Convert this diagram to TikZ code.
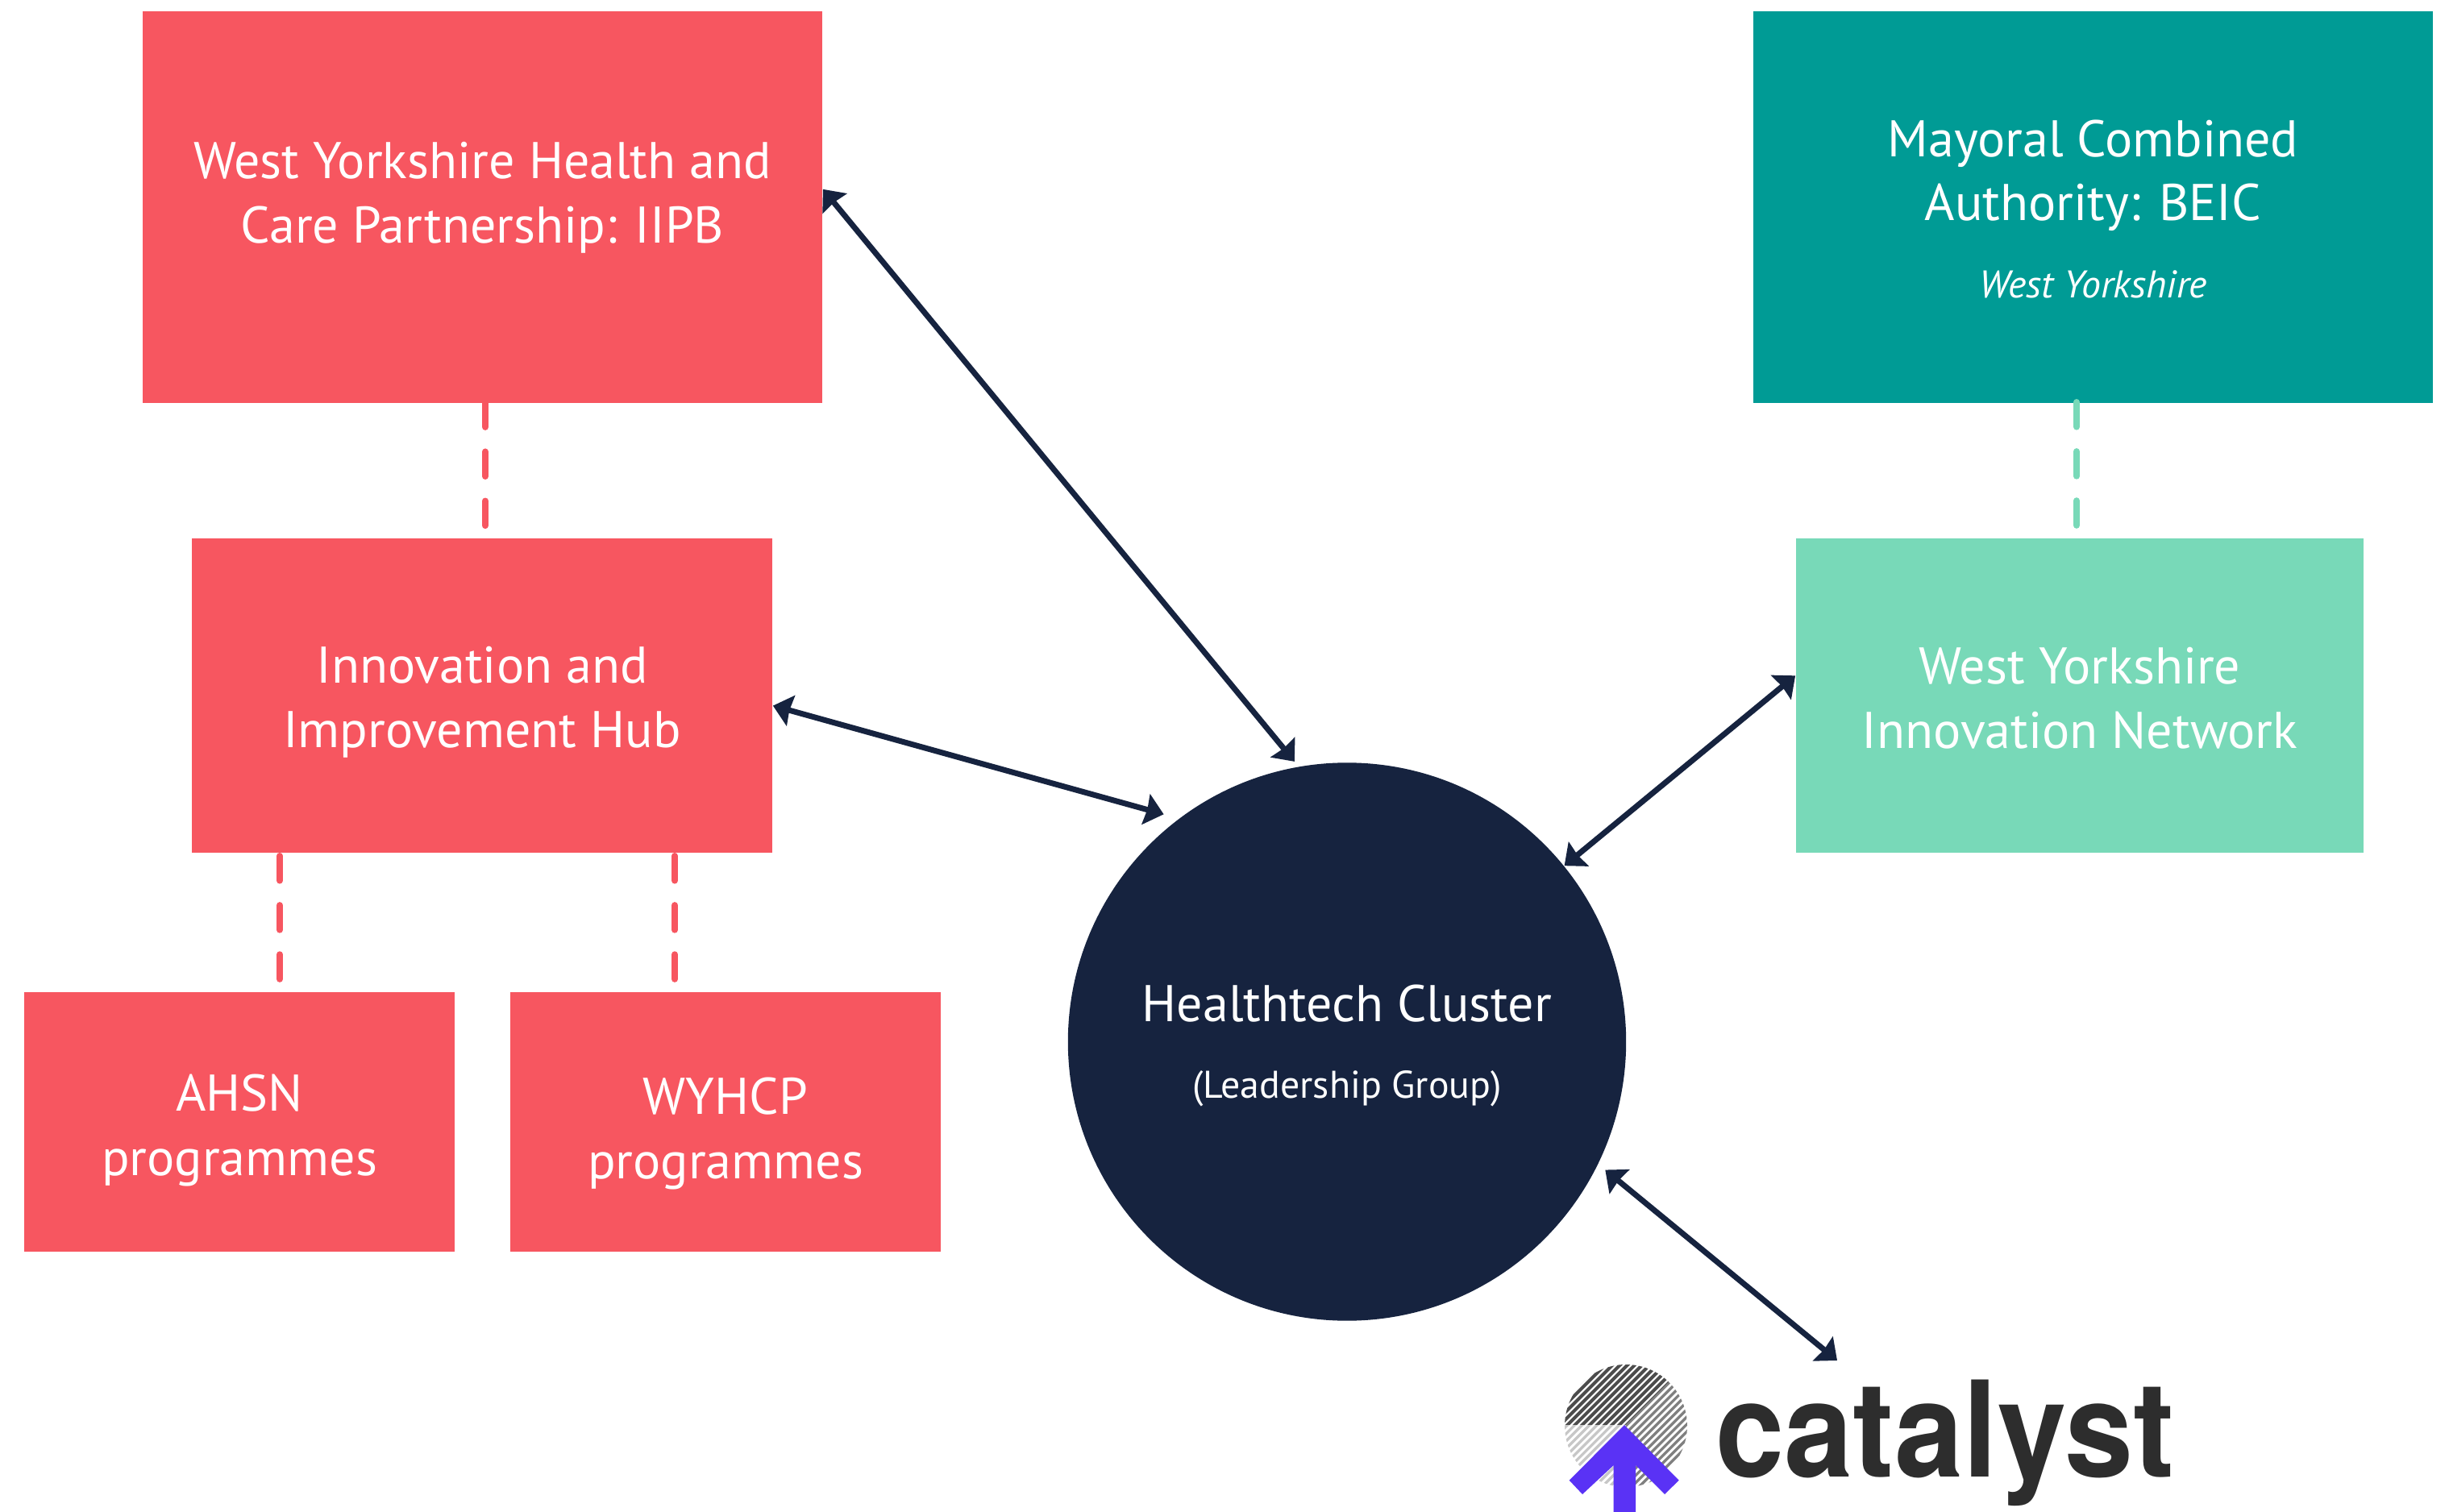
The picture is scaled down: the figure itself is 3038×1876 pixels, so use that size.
\documentclass[tikz,border=0pt]{standalone}
\usepackage{fontspec}
\setmainfont{PT Sans}
\newfontfamily\logofont{TeX Gyre Heros}
\usetikzlibrary{arrows.meta, positioning, calc, shapes.geometric}
\definecolor{redcol}{HTML}{F75660}
\definecolor{tealcol}{HTML}{009B95}
\definecolor{mintcol}{HTML}{78D9B8}
\definecolor{navycol}{HTML}{16233F}
\definecolor{logocol}{HTML}{2D2D2D}
\definecolor{purplecol}{HTML}{5A32F5}

\begin{document}
\begin{tikzpicture}[
    x=0.01cm, y=-0.01cm,
    box/.style={
        inner sep=0pt, align=center, text=white,
        font=\fontsize{18.2}{22.7}\selectfont
    },
    link/.style={
        draw=navycol, line width=2pt,
        {Stealth[length=6.5pt,width=11pt,inset=0.5pt]}-{Stealth[length=6.5pt,width=11pt,inset=0.5pt]}
    },
    tie/.style={
        line width=2.27pt, line cap=round, dash pattern=on 8.7pt off 8.68pt
    },
]
\useasboundingbox (0,0) rectangle (3038,1876);

% ── Boxes ──
\node[box, fill=redcol, minimum width=8.43cm, minimum height=4.86cm] (iipb) at (598.5,257)
    {West Yorkshire Health and\\Care Partnership: IIPB\\[-12.3pt]};
\node[box, fill=redcol, minimum width=7.2cm, minimum height=3.9cm] (hub) at (598,863)
    {Innovation and\\Improvement Hub\\[-23.8pt]};
\node[box, fill=redcol, minimum width=5.34cm, minimum height=3.22cm] (ahsn) at (297,1392)
    {AHSN\\programmes\\[-24.7pt]};
\node[box, fill=redcol, minimum width=5.34cm, minimum height=3.22cm] (wyhcp) at (900,1392)
    {WYHCP\\programmes\\[-26.9pt]};
\node[box, fill=tealcol, minimum width=8.43cm, minimum height=4.86cm] (mca) at (2596.5,257)
    {Mayoral Combined\\Authority: BEIC\\[4.35pt]{\fontsize{13.6}{16}\selectfont\itshape West Yorkshire}\\[-23.7pt]};
\node[box, fill=mintcol, minimum width=7.04cm, minimum height=3.9cm] (wyin) at (2580,863)
    {West Yorkshire\\Innovation Network\\[-24.3pt]};
\node[box, fill=navycol, circle, minimum size=6.92cm] (cluster) at (1671,1292.5)
    {Healthtech Cluster\\[4.2pt]{\fontsize{13.6}{16}\selectfont (Leadership Group)}\\[-22.4pt]};

% ── Logo ──
\node[inner sep=0pt, anchor=base west, text=logocol, xscale=0.926,
    font=\logofont\bfseries\fontsize{47}{47}\selectfont] (catalyst) at (2128,1832) {catalyst};
\coordinate (catalystN) at (2279,1688);
\foreach \sector/\shade/\wd in {
    {(2017,1768) -- (1900,1768) -- (1900,1650) -- (2135,1650)}/black!70/1.15pt,
    {(2017,1768) -- (2135,1650) -- (2135,1890) -- (2017,1890)}/black!50/0.95pt,
    {(2017,1768) -- (2017,1890) -- (1900,1890) -- (1900,1768)}/black!22/0.95pt} {
    \begin{scope}
        \clip (2017,1769) circle (76);
        \clip \sector -- cycle;
        \foreach \k in {-13,...,13} {
            \draw[\shade, line width=\wd] ($(2017,1769)+(\k*9.2,0)+(-110,110)$) -- ++(220,-220);
        }
    \end{scope}
}
\fill[purplecol] (2015,1768) -- (2082.7,1836.7) -- (2065,1854) -- (2029,1818) -- (2029,1876)
    -- (2001.7,1876) -- (2001.7,1818) -- (1963,1854) -- (1946.7,1836.7) -- cycle;

% ── Dashed ties ──
\draw[tie, redcol] (602,499.3) -- (602,653);
\draw[tie, redcol] (347,1062) -- (347,1216);
\draw[tie, redcol] (837,1062) -- (837,1216);
\draw[tie, mintcol] (2576,499) -- (2576,653);

% ── Double arrows ──
\draw[link, shorten >=0.078cm] (iipb.3.8) -- (cluster.100.8);
\draw[link, shorten >=0.193cm] (hub.-2.6) -- (cluster.127.5);
\draw[link] (wyin.176.4) -- (cluster.39.4);
\draw[link, shorten <=0.11cm] (cluster.-26.85) -- (catalystN);
\end{tikzpicture}
\end{document}
